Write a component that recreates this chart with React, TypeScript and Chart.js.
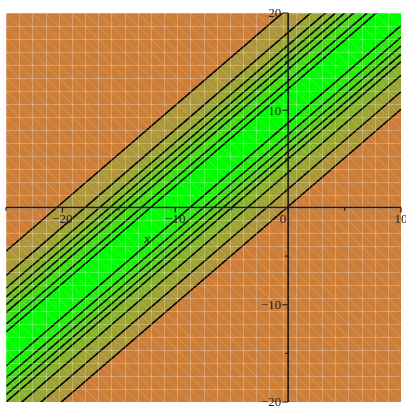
import React, { useEffect, useRef } from "react";
import { Chart, registerables } from "chart.js";

Chart.register(...registerables);

// Domain of the plot
const xRange = [-25, 10];
const yRange = [-20, 20];

// Contour levels: lines y = x + c
const contourLevels = [0.1, 1.9, 3.6, 5.0, 5.75, 6.6, 7.5, 8.7, 12.2, 13.0, 14.2, 15.0, 15.8, 16.7, 18.0, 20.5];

// Band fill colours between consecutive contour lines (ascending c)
const bandColors = [
  "rgb(174,150,58)",
  "rgb(154,165,50)",
  "rgb(134,180,42)",
  "rgb(114,195,35)",
  "rgb(92,208,28)",
  "rgb(66,222,20)",
  "rgb(36,238,12)",
  "rgb(4,252,2)",
  "rgb(36,238,12)",
  "rgb(66,222,20)",
  "rgb(92,208,28)",
  "rgb(114,195,35)",
  "rgb(134,180,42)",
  "rgb(154,165,50)",
  "rgb(174,150,58)",
];
const outsideColor = "rgb(205,126,56)";

// Axis ticks
const xMajorTicks = [-20, -10, 0, 10];
const xMinorTicks = [-25, -15, -5, 5];
const yMajorTicks = [-20, -10, 10, 20];
const yMinorTicks = [-15, -5, 5, 15];

// Axis label
const xAxisLabel = "x";
const xAxisLabelPos = [-12.5, -3.3];

// Mesh cells
const meshCols = 30;
const meshRows = 30;

const fmt = (v: number) => (v < 0 ? "\u2212" + Math.abs(v) : String(v));

export default function App() {
  const ref = useRef<HTMLCanvasElement>(null);

  useEffect(() => {
    const canvas = ref.current!;
    const datasets = contourLevels.map((c, i) => ({
      data: [
        { x: xRange[0], y: xRange[0] + c },
        { x: xRange[1], y: xRange[1] + c },
      ],
      borderColor: "#000",
      borderWidth: 1.6,
      pointRadius: 0,
      tension: 0,
      fill: i === 0 ? false : "-1",
      backgroundColor: i === 0 ? "transparent" : bandColors[i - 1],
    }));

    const bgPlugin = {
      id: "bg",
      beforeDatasetsDraw(chart: any) {
        const { ctx, chartArea: a } = chart;
        ctx.save();
        ctx.fillStyle = outsideColor;
        ctx.fillRect(a.left, a.top, a.right - a.left, a.bottom - a.top);
        ctx.restore();
      },
    };

    const meshPlugin = {
      id: "mesh",
      afterDatasetsDraw(chart: any) {
        const { ctx, chartArea: a } = chart;
        const xs = chart.scales.x;
        const ys = chart.scales.y;
        ctx.save();
        ctx.beginPath();
        ctx.rect(a.left, a.top, a.right - a.left, a.bottom - a.top);
        ctx.clip();
        const dx = (xRange[1] - xRange[0]) / meshCols;
        const dy = (yRange[1] - yRange[0]) / meshRows;
        ctx.strokeStyle = "rgba(255,255,255,0.25)";
        ctx.lineWidth = 1;
        ctx.beginPath();
        for (let i = 0; i <= meshCols; i++) {
          const px = Math.round(xs.getPixelForValue(xRange[0] + i * dx)) + 0.5;
          ctx.moveTo(px, a.top);
          ctx.lineTo(px, a.bottom);
        }
        for (let j = 0; j <= meshRows; j++) {
          const py = Math.round(ys.getPixelForValue(yRange[0] + j * dy)) + 0.5;
          ctx.moveTo(a.left, py);
          ctx.lineTo(a.right, py);
        }
        ctx.stroke();
        ctx.strokeStyle = "rgba(255,255,255,0.18)";
        ctx.beginPath();
        for (let k = -meshRows; k <= meshCols; k++) {
          const x0 = xRange[0] + k * dx;
          ctx.moveTo(xs.getPixelForValue(x0), ys.getPixelForValue(yRange[1]));
          ctx.lineTo(
            xs.getPixelForValue(x0 + meshRows * dx),
            ys.getPixelForValue(yRange[0])
          );
        }
        ctx.stroke();
        ctx.restore();
      },
    };

    const axesPlugin = {
      id: "axes",
      afterDraw(chart: any) {
        const { ctx, chartArea: a } = chart;
        const xs = chart.scales.x;
        const ys = chart.scales.y;
        const x0 = xs.getPixelForValue(0);
        const y0 = ys.getPixelForValue(0);
        ctx.save();
        ctx.strokeStyle = "#1c1c1c";
        ctx.lineWidth = 1.6;
        ctx.beginPath();
        ctx.moveTo(a.left, y0);
        ctx.lineTo(a.right, y0);
        ctx.moveTo(x0, a.top);
        ctx.lineTo(x0, a.bottom);
        ctx.stroke();
        ctx.lineWidth = 1.2;
        ctx.beginPath();
        xMajorTicks.forEach((v) => {
          const px = xs.getPixelForValue(v);
          ctx.moveTo(px, y0);
          ctx.lineTo(px, y0 + 5);
        });
        xMinorTicks.forEach((v) => {
          const px = xs.getPixelForValue(v);
          ctx.moveTo(px, y0);
          ctx.lineTo(px, y0 + 3);
        });
        yMajorTicks.forEach((v) => {
          const py = ys.getPixelForValue(v);
          ctx.moveTo(x0, py);
          ctx.lineTo(x0 - 6, py);
        });
        yMinorTicks.forEach((v) => {
          const py = ys.getPixelForValue(v);
          ctx.moveTo(x0, py);
          ctx.lineTo(x0 - 3, py);
        });
        ctx.stroke();

        ctx.fillStyle = "#222";
        ctx.font = "13px 'Liberation Serif', 'DejaVu Serif', serif";
        ctx.textBaseline = "top";
        xMajorTicks.forEach((v) => {
          const px = xs.getPixelForValue(v);
          if (v === 0) {
            ctx.textAlign = "right";
            ctx.fillText(fmt(v), px - 2, y0 + 6);
          } else {
            ctx.textAlign = "center";
            ctx.fillText(fmt(v), px, y0 + 6);
          }
        });
        ctx.textAlign = "right";
        ctx.textBaseline = "middle";
        yMajorTicks.forEach((v) => {
          const py = ys.getPixelForValue(v);
          ctx.fillText(fmt(v), x0 - 7, py + 1);
        });
        ctx.font = "italic 13px 'Liberation Serif', 'DejaVu Serif', serif";
        ctx.textAlign = "center";
        ctx.fillText(
          xAxisLabel,
          xs.getPixelForValue(xAxisLabelPos[0]),
          ys.getPixelForValue(xAxisLabelPos[1])
        );
        ctx.restore();
      },
    };

    const chart = new Chart(canvas, {
      type: "line",
      data: { datasets },
      options: {
        animation: false,
        responsive: false,
        maintainAspectRatio: false,
        devicePixelRatio: 1,
        layout: { padding: { left: 6, top: 13, right: 5, bottom: 4 } },
        scales: {
          x: { type: "linear", min: xRange[0], max: xRange[1], display: false },
          y: { type: "linear", min: yRange[0], max: yRange[1], display: false },
        },
        plugins: {
          legend: { display: false },
          tooltip: { enabled: false },
          filler: { propagate: false },
        },
      },
      plugins: [bgPlugin, meshPlugin, axesPlugin],
    } as any);
    return () => chart.destroy();
  }, []);

  return (
    <div style={{ position: "absolute", left: 0, top: 0, width: 406, height: 406, background: "#fff" }}>
      <canvas ref={ref} width={406} height={406} style={{ display: "block" }} />
    </div>
  );
}
